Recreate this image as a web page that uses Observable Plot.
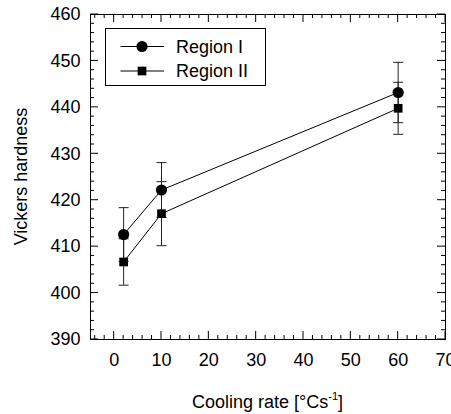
<!DOCTYPE html>
<html>
<head>
<meta charset="utf-8">
<script src="https://cdn.jsdelivr.net/npm/d3@7"></script>
<script src="https://cdn.jsdelivr.net/npm/@observablehq/plot@0.6"></script>
<style>
  html, body { margin: 0; padding: 0; background: white; }
  #chart { width: 451px; height: 414px; overflow: hidden; }
</style>
</head>
<body>
<div id="chart"></div>
<script>
// ---- data ----
const coolingRate = [2, 10, 60];
const seriesNames = ["Region I", "Region II"];
const hardnessRegionI = [412.6, 422.2, 443.2];
const errorRegionI = [5.8, 5.9, 6.5];
const hardnessRegionII = [406.7, 417.1, 439.8];
const errorRegionII = [5.0, 6.9, 5.6];

const xMajorTicks = [0, 10, 20, 30, 40, 50, 60, 70];
const xMinorTicks = [-4, -2, 2, 4, 6, 8, 12, 14, 16, 18, 22, 24, 26, 28, 32, 34, 36, 38, 42, 44, 46, 48, 52, 54, 56, 58, 62, 64, 66, 68];
const yMajorTicks = [390, 400, 410, 420, 430, 440, 450, 460];
const yMinorTicks = [392, 394, 396, 398, 402, 404, 406, 408, 412, 414, 416, 418, 422, 424, 426, 428, 432, 434, 436, 438, 442, 444, 446, 448, 452, 454, 456, 458];

const xLabel = "Cooling rate [°Cs";
const xLabelSup = "-1";
const yLabel = "Vickers hardness";

// ---- table ----
const rows = [];
coolingRate.forEach((x, i) => {
  rows.push({series: seriesNames[0], x, y: hardnessRegionI[i], lo: hardnessRegionI[i] - errorRegionI[i], hi: hardnessRegionI[i] + errorRegionI[i]});
});
coolingRate.forEach((x, i) => {
  rows.push({series: seriesNames[1], x, y: hardnessRegionII[i], lo: hardnessRegionII[i] - errorRegionII[i], hi: hardnessRegionII[i] + errorRegionII[i]});
});

const W = 451, H = 414, mL = 90, mR = 6, mT = 14, mB = 75;
const pw = W - mL - mR, ph = H - mT - mB;
const major = 8, minor = 4;

const rad = size => Math.sqrt(size / Math.PI);
const hline = {draw(ctx, size) { const w = rad(size); ctx.moveTo(-w, 0); ctx.lineTo(w, 0); }};

const plot = Plot.plot({
  width: W, height: H,
  marginLeft: mL, marginRight: mR, marginTop: mT, marginBottom: mB,
  x: {domain: [-5, 70]},
  y: {domain: [390, 460]},
  style: {fontFamily: "'Liberation Sans', Arial, sans-serif", fontSize: "18px", background: "white"},
  marks: [
    Plot.frame({stroke: "black", fill: "none"}),
    Plot.axisX({ticks: xMajorTicks, tickSize: 0, tickPadding: 14, label: null, tickFormat: d => String(d)}),
    Plot.axisY({ticks: yMajorTicks, tickSize: 0, tickPadding: 10, label: null, tickFormat: d => String(d)}),
    // error bars
    Plot.ruleX(rows, {x: "x", y1: "lo", y2: "hi", stroke: "#222", strokeWidth: 1}),
    Plot.dot(rows, {x: "x", y: "lo", symbol: hline, r: 5, stroke: "#222", fill: "none", strokeWidth: 1}),
    Plot.dot(rows, {x: "x", y: "hi", symbol: hline, r: 5, stroke: "#222", fill: "none", strokeWidth: 1}),
    // lines
    Plot.line(rows, {x: "x", y: "y", z: "series", stroke: "black", strokeWidth: 1}),
    // markers
    Plot.dot(rows.filter(d => d.series === seriesNames[0]), {x: "x", y: "y", symbol: "circle", r: 5.6, fill: "black", stroke: "none"}),
    Plot.dot(rows.filter(d => d.series === seriesNames[1]), {x: "x", y: "y", symbol: "square", r: 4.9, fill: "black", stroke: "none"})
  ]
});

document.getElementById("chart").appendChild(plot);

const svg = d3.select(plot);
const sx = plot.scale("x"), sy = plot.scale("y");
const x0 = mL, x1 = W - mR, y0 = mT, y1 = H - mB;

// inward ticks on all four sides, positioned through Plot's scales
const tg = svg.append("g").attr("stroke", "black").attr("stroke-width", 1).attr("fill", "none");
const addX = (vals, len) => vals.forEach(v => {
  const px = sx.apply(v);
  tg.append("line").attr("x1", px).attr("x2", px).attr("y1", y1).attr("y2", y1 - len);
  tg.append("line").attr("x1", px).attr("x2", px).attr("y1", y0).attr("y2", y0 + len);
});
const addY = (vals, len) => vals.forEach(v => {
  const py = sy.apply(v);
  tg.append("line").attr("y1", py).attr("y2", py).attr("x1", x0).attr("x2", x0 + len);
  tg.append("line").attr("y1", py).attr("y2", py).attr("x1", x1).attr("x2", x1 - len);
});
addX(xMajorTicks, major); addX(xMinorTicks, minor);
addY(yMajorTicks, major); addY(yMinorTicks, minor);

// y label
svg.append("text")
  .attr("transform", `translate(21,${mT + ph / 2}) rotate(-90)`)
  .attr("text-anchor", "middle")
  .attr("dy", "0.35em")
  .attr("fill", "black")
  .text(yLabel);
// x label with superscript
const xl = svg.append("text")
  .attr("x", mL + pw / 2)
  .attr("y", 408)
  .attr("text-anchor", "middle")
  .attr("fill", "black");
xl.append("tspan").text(xLabel);
xl.append("tspan").attr("font-size", "11px").attr("dy", "-8").text(xLabelSup);
xl.append("tspan").attr("dy", "8").text("]");

// legend
const lg = svg.append("g");
lg.append("rect").attr("x", 105.5).attr("y", 28.5).attr("width", 160).attr("height", 57)
  .attr("fill", "white").attr("stroke", "black");
const rowsY = [46.5, 71];
seriesNames.forEach((name, i) => {
  const y = rowsY[i];
  lg.append("line").attr("x1", 120.5).attr("x2", 164).attr("y1", y).attr("y2", y).attr("stroke", "black");
  if (i === 0) lg.append("circle").attr("cx", 142).attr("cy", y).attr("r", 5.6).attr("fill", "black");
  else lg.append("rect").attr("x", 142 - 4.35).attr("y", y - 4.35).attr("width", 8.7).attr("height", 8.7).attr("fill", "black");
  lg.append("text").attr("x", 176).attr("y", y).attr("dy", "0.35em").attr("text-anchor", "start").attr("fill", "black").text(name);
});
</script>
</body>
</html>
